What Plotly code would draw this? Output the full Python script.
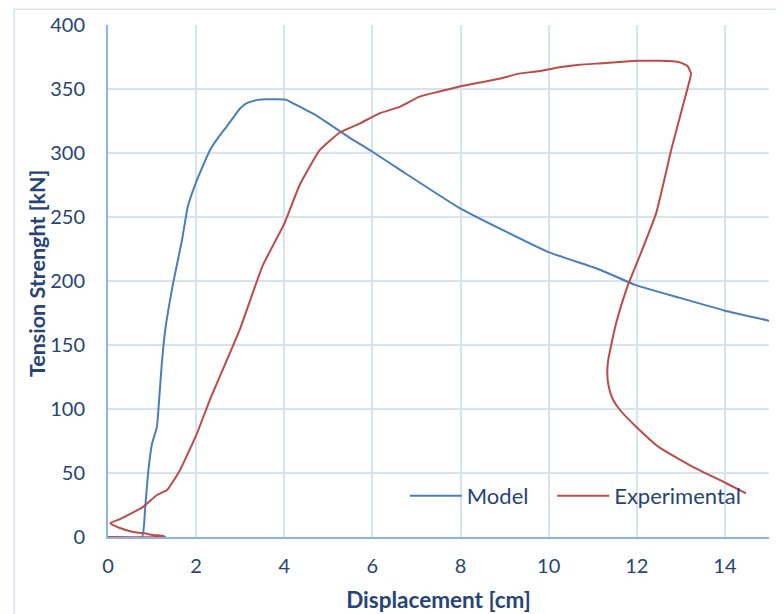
import plotly.graph_objects as go

# Model curve (displacement cm, tension kN)
model_x = [0, 0.77, 0.84, 0.91, 1.0, 1.11, 1.16, 1.22, 1.3, 1.47, 1.68, 1.81, 2.02, 2.31, 2.5, 2.7,
           2.85, 3.0, 3.15, 3.4, 3.6, 4.05, 4.19, 4.74, 5.48, 6.0, 6.62, 7.98, 9.97, 11.15,
           11.96, 12.96, 13.98, 15.0]
model_y = [0, 0, 21, 50, 73, 86, 107, 135, 162, 197, 232, 258, 279, 302, 312, 321,
           328, 335, 339, 341.5, 342, 341.5, 339, 329, 312, 301, 287, 257, 223, 209,
           197, 187, 177, 169]

# Experimental curve
exp_x = [0, 1.3, 1.25, 1.02, 0.79, 0.57, 0.27, 0.05, 0.27, 0.79, 1.11, 1.34, 1.63, 2.02, 2.31,
         2.99, 3.51, 3.99, 4.35, 4.8, 5.26, 5.71, 6.16, 6.62, 7.07, 7.52, 7.98, 8.43, 8.88,
         9.33, 9.79, 10.24, 10.7, 11.15, 11.6, 12.05, 12.51, 12.96, 13.15, 13.23, 13.14, 12.8,
         12.44, 12.06, 11.78, 11.53, 11.42, 11.35, 11.33, 11.36, 11.45, 11.6, 11.99, 12.51,
         13.26, 14.03, 14.48]
exp_y = [0, 0, 0.8, 1.6, 3.1, 3.9, 7, 10.9, 14, 23.4, 32.8, 36.7, 52, 81, 107,
         162, 212, 244, 275, 302, 316, 323, 331, 336, 344, 348, 352, 355, 358,
         362, 364, 367, 369, 370, 371, 372, 372, 371, 368, 362, 349, 305,
         253, 219, 195, 167, 150, 138, 128, 118, 108, 100, 86, 70,
         55, 42, 34]

x_ticks = [0, 2, 4, 6, 8, 10, 12, 14]
y_ticks = [0, 50, 100, 150, 200, 250, 300, 350, 400]

text_color = "#264478"
grid_color = "#D6E3F3"
axis_color = "#8EB4E3"

fig = go.Figure()
fig.add_trace(go.Scatter(x=model_x, y=model_y, mode="lines", name="Model", legend="legend",
                         line=dict(color="#4A7EBB", width=2, shape="spline", smoothing=0.4)))
fig.add_trace(go.Scatter(x=exp_x, y=exp_y, mode="lines", name="Experimental", legend="legend2",
                         line=dict(color="#BE4B48", width=2, shape="spline", smoothing=0.4)))

leg = dict(y=0.08, xanchor="left", yanchor="middle", bgcolor="rgba(0,0,0,0)",
           font=dict(size=22, color=text_color), itemwidth=52)

# page body has an 8px margin, so the figure is sized to fill the rest
fig.update_layout(
    width=776, height=606,
    margin=dict(l=100, r=14.5, t=17, b=77),
    paper_bgcolor="white", plot_bgcolor="white",
    font=dict(family="Lato", size=20, color=text_color),
    showlegend=True,
    legend=dict(leg, x=0.449),
    legend2=dict(leg, x=0.672),
    shapes=[dict(type="rect", xref="paper", yref="paper",
                 x0=-0.142, x1=1.2, y0=-0.3, y1=1.031,
                 line=dict(color=grid_color, width=1.5), layer="below")],
    annotations=[dict(text="<b>Tension Strenght [kN]</b>", textangle=-90, showarrow=False,
                      xref="paper", yref="paper", x=-0.1073, y=0.5137,
                      xanchor="center", yanchor="middle", font=dict(size=21.5))],
)

fig.update_xaxes(range=[0, 15], tickvals=x_ticks, showgrid=True, gridcolor=grid_color, gridwidth=1.5,
                 showline=True, linecolor=axis_color, linewidth=2, zeroline=False, automargin=False,
                 ticks="outside", ticklen=10, tickcolor="rgba(0,0,0,0)",
                 title=dict(text="<b>Displacement [cm]</b>", standoff=16, font=dict(size=22.5)))
fig.update_yaxes(range=[0, 400], tickvals=y_ticks, showgrid=True, gridcolor=grid_color, gridwidth=1.5,
                 showline=True, linecolor=axis_color, linewidth=2, zeroline=False, automargin=False,
                 ticks="outside", ticklen=17, tickcolor="rgba(0,0,0,0)")

fig.write_html("out.html")
